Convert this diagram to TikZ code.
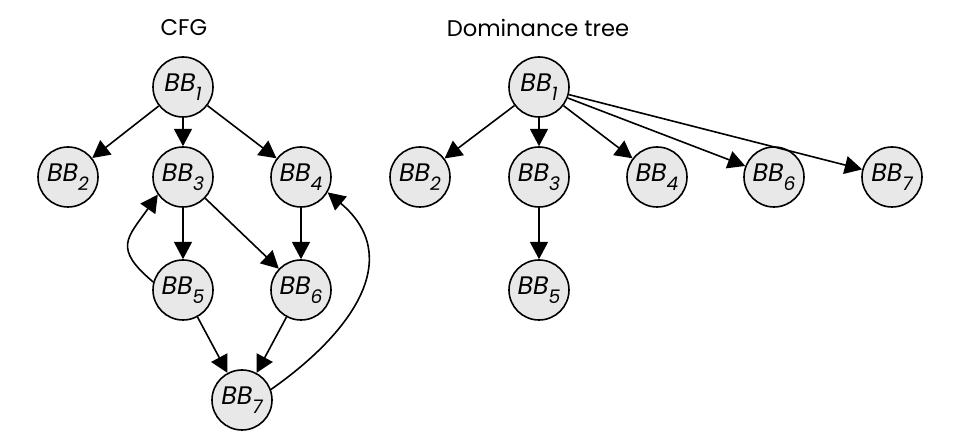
\documentclass[tikz,border=0pt]{standalone}
\usepackage{fontspec}
\setmainfont{Poppins}
\usetikzlibrary{arrows.meta}
\begin{document}
\begin{tikzpicture}[x=0.75pt,y=-0.75pt,
  bb/.style={circle,draw=black,line width=1.2pt,fill=gray!18,minimum size=45pt,inner sep=0pt,font=\fontsize{19}{19}\selectfont\itshape},
  title/.style={font=\fontsize{17}{17}\selectfont},
  edge/.style={draw=black,line width=1.2pt,-{Triangle[length=13pt,width=13.5pt]}}]
\useasboundingbox (0,0) rectangle (957,441);
\newcommand{\bbl}[1]{BB\raisebox{-0.35em}{\fontsize{14}{14}\selectfont #1}}
% CFG
\node[title] (t1) at (184,28) {CFG};
\node[bb] (a1) at (183,87) {\bbl{1}};
\node[bb] (a2) at (68,177) {\bbl{2}};
\node[bb] (a3) at (183,177) {\bbl{3}};
\node[bb] (a4) at (301,177) {\bbl{4}};
\node[bb] (a5) at (183,290) {\bbl{5}};
\node[bb] (a6) at (301,290) {\bbl{6}};
\node[bb] (a7) at (242,400) {\bbl{7}};
\draw[edge] (a1) -- (a2);
\draw[edge] (a1) -- (a3);
\draw[edge] (a1) -- (a4);
\draw[edge] (a3) -- (a5);
\draw[edge] (a3) -- (a6);
\draw[edge] (a4) -- (a6);
\draw[edge] (a5) -- (a7);
\draw[edge] (a6) -- (a7);
\draw[edge] (a5.165) to[out=140,in=235,looseness=1.55] (a3.215);
\draw[edge] (a7.20) to[out=35,in=-40,looseness=1.25] (a4.330);
% Dominance tree
\node[title] (t2) at (538,28) {Dominance tree};
\node[bb] (d1) at (539,87) {\bbl{1}};
\node[bb] (d2) at (420,177) {\bbl{2}};
\node[bb] (d3) at (539,177) {\bbl{3}};
\node[bb] (d4) at (657,177) {\bbl{4}};
\node[bb] (d6) at (774,177) {\bbl{6}};
\node[bb] (d7) at (892,177) {\bbl{7}};
\node[bb] (d5) at (539,290) {\bbl{5}};
\draw[edge] (d1) -- (d2);
\draw[edge] (d1) -- (d3);
\draw[edge] (d1) -- (d4);
\draw[edge] (d1) -- (d6);
\draw[edge] (d1) -- (d7);
\draw[edge] (d3) -- (d5);
\end{tikzpicture}
\end{document}
